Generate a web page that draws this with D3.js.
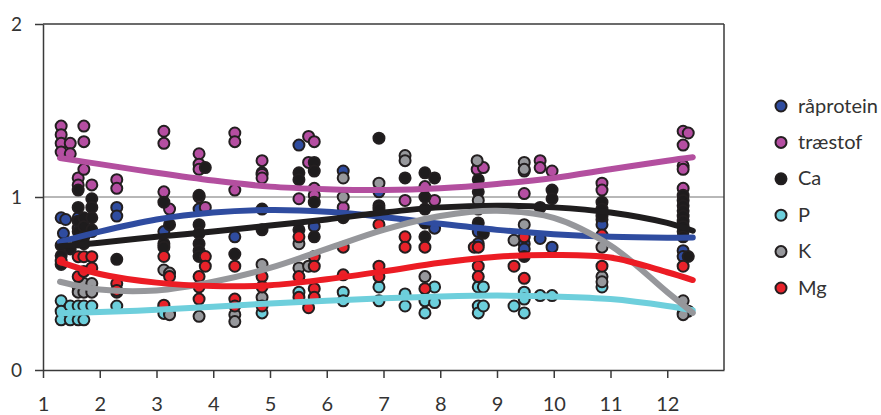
<!DOCTYPE html>
<html><head><meta charset="utf-8">
<script src="https://cdn.jsdelivr.net/npm/d3@7"></script>
<style>body{margin:0;background:#fff;} svg{display:block;}</style>
</head><body>
<svg id="c" width="881" height="415"></svg>
<script>
// ---- data ----
const seriesNames = ["råprotein", "træstof", "Ca", "P", "K", "Mg"];
const xTicks = [1,2,3,4,5,6,7,8,9,10,11,12];
const yTicks = [0,1,2];

const raprotein = [[1.32,0.88],[1.40,0.87],[1.36,0.79],[1.62,0.88],[1.62,0.82],[1.86,0.80],[2.30,0.94],[2.30,0.89],
 [3.13,0.80],[3.75,0.93],[4.38,0.77],[4.86,1.14],[5.51,1.30],[5.78,0.83],[6.29,1.15],[6.92,1.03],[7.90,0.82],
 [8.67,0.80],[8.67,0.73],[9.48,0.73],[9.48,0.70],[9.76,0.76],[9.97,0.71],[10.85,0.87],[10.85,0.84],[12.28,0.69],[12.28,0.656]];
const traestof = [[1.32,1.41],[1.32,1.36],[1.32,1.31],[1.32,1.26],[1.48,1.31],[1.48,1.25],[1.62,1.11],[1.62,1.07],
 [1.72,1.41],[1.72,1.32],[1.72,1.16],[1.86,1.07],[2.30,1.10],[2.30,1.05],[3.13,1.38],[3.13,1.31],[3.13,1.03],[3.23,0.93],
 [3.75,1.25],[3.75,1.19],[3.75,1.16],[3.75,1.00],[3.86,0.94],[4.38,1.37],[4.38,1.32],[4.38,1.04],[4.86,1.21],[4.86,1.13],
 [4.86,1.11],[5.51,0.99],[5.68,1.35],[5.68,1.20],[5.78,1.32],[5.78,1.05],[5.78,1.01],[6.29,0.94],[7.38,0.98],[7.73,1.06],
 [7.90,0.98],[8.65,1.16],[8.76,1.17],[9.48,1.15],[9.48,1.02],[9.76,1.21],[9.76,1.17],[9.97,1.15],[10.85,1.08],[10.85,1.04],
 [12.28,1.38],[12.37,1.37],[12.28,1.30],[12.28,1.18],[12.28,1.16],[12.28,1.05]];
const ca = [[1.32,0.72],[1.32,0.66],[1.32,0.61],[1.48,0.70],[1.62,1.04],[1.62,0.94],[1.62,0.86],[1.62,0.80],[1.62,0.74],
 [1.72,0.88],[1.72,0.83],[1.72,0.77],[1.72,0.73],[1.86,0.99],[1.86,0.94],[1.86,0.88],[1.86,0.81],[2.30,0.64],
 [3.13,0.97],[3.13,0.73],[3.13,0.71],[3.23,0.84],[3.75,1.01],[3.75,0.84],[3.75,0.79],[3.75,0.73],[3.75,0.69],[3.75,0.656],
 [3.86,1.17],[4.38,0.67],[4.86,0.93],[4.86,0.81],[5.51,1.14],[5.51,1.10],[5.51,0.81],[5.78,1.20],[5.78,1.15],[5.78,0.97],
 [5.78,0.77],[6.29,0.88],[6.92,1.34],[6.92,0.95],[6.92,0.93],[7.38,1.11],[7.73,1.14],[7.73,1.00],[7.73,0.93],[7.73,0.85],
 [7.73,0.77],[7.90,1.11],[8.67,1.10],[8.67,1.03],[8.67,0.93],[8.67,0.85],[8.76,0.79],[9.48,0.656],[9.76,0.94],[9.97,1.04],
 [9.97,0.99],[10.85,0.97],[10.85,0.93],[10.85,0.89],[12.28,1.01],[12.28,0.98],[12.28,0.95],[12.28,0.92],[12.28,0.89],
 [12.28,0.86],[12.28,0.83],[12.28,0.80],[12.28,0.77],[12.37,0.656]];
const p = [[1.32,0.40],[1.32,0.34],[1.32,0.29],[1.48,0.37],[1.48,0.29],[1.62,0.37],[1.62,0.29],[1.72,0.37],[1.72,0.29],
 [1.86,0.37],[2.30,0.37],[3.13,0.366],[3.13,0.327],[3.23,0.33],[4.86,0.33],[5.51,0.45],[6.29,0.45],[6.29,0.40],[6.92,0.48],
 [6.92,0.40],[7.38,0.44],[7.38,0.37],[7.73,0.40],[7.73,0.33],[7.90,0.48],[7.90,0.39],[8.67,0.48],[8.76,0.48],[8.67,0.37],
 [8.67,0.33],[8.76,0.37],[9.30,0.37],[9.48,0.45],[9.48,0.41],[9.48,0.33],[9.76,0.43],[9.97,0.43],[10.85,0.48],[12.28,0.33],[12.37,0.34]];
const k = [[1.62,0.48],[1.62,0.45],[1.72,0.50],[1.72,0.45],[1.86,0.50],[1.86,0.45],[2.30,0.45],[3.13,0.578],[3.23,0.56],
 [3.23,0.32],[3.75,0.31],[4.38,0.32],[4.38,0.28],[4.86,0.61],[4.86,0.42],[5.51,0.73],[5.51,0.59],[5.68,0.60],[6.29,1.11],
 [6.29,1.00],[6.92,1.08],[7.38,1.24],[7.38,1.21],[7.73,0.54],[8.65,1.21],[8.67,0.98],[9.30,0.75],[9.48,1.20],[9.48,1.16],
 [9.48,0.84],[10.85,0.71],[10.85,0.54],[10.85,0.51],[12.28,0.40],[12.28,0.32]];
const mg = [[1.32,0.63],[1.62,0.655],[1.62,0.54],[1.72,0.655],[1.72,0.57],[1.86,0.655],[1.86,0.59],[2.30,0.50],[2.30,0.46],
 [3.13,0.656],[3.13,0.375],[3.23,0.54],[3.75,0.54],[3.75,0.48],[3.75,0.41],[3.86,0.656],[3.86,0.60],[4.38,0.60],[4.38,0.41],
 [4.38,0.37],[4.86,0.54],[4.86,0.48],[4.86,0.37],[5.51,0.77],[5.51,0.54],[5.51,0.42],[5.68,0.36],[5.78,0.656],[5.78,0.60],
 [5.78,0.47],[5.78,0.42],[6.29,0.71],[6.29,0.55],[6.92,0.84],[6.92,0.60],[6.92,0.54],[7.38,0.77],[7.38,0.71],[7.73,0.71],
 [7.73,0.47],[8.60,0.71],[8.67,0.71],[8.67,0.60],[8.67,0.54],[9.30,0.60],[9.48,0.77],[9.48,0.53],[10.85,0.78],[10.85,0.60],[12.28,0.60]];

// trend lines
const trendX = [1.3, 2, 3, 4, 5, 6, 7, 8, 9, 10, 11, 12, 12.45];
const trendRaprotein = [0.74, 0.80, 0.87, 0.91, 0.925, 0.915, 0.885, 0.845, 0.81, 0.785, 0.77, 0.765, 0.766];
const trendTraestof = [1.225, 1.19, 1.14, 1.095, 1.06, 1.045, 1.04, 1.05, 1.075, 1.11, 1.16, 1.21, 1.23];
const trendCa = [0.715, 0.735, 0.77, 0.80, 0.835, 0.87, 0.91, 0.94, 0.95, 0.94, 0.91, 0.85, 0.805];
const trendP = [0.328, 0.335, 0.348, 0.365, 0.385, 0.40, 0.415, 0.425, 0.43, 0.425, 0.41, 0.37, 0.345];
const trendK = [0.51, 0.465, 0.46, 0.51, 0.59, 0.70, 0.81, 0.89, 0.92, 0.88, 0.72, 0.45, 0.33];
const trendMg = [0.625, 0.555, 0.505, 0.485, 0.49, 0.525, 0.57, 0.62, 0.655, 0.665, 0.65, 0.565, 0.52];

const markerColors = ["#2f4c9f", "#b54ea2", "#1e1c1d", "#6ccfdc", "#97989c", "#e8222a"];
const lineColors   = ["#2f4ca0", "#b34f9f", "#1f1d1e", "#6ecfdc", "#96979b", "#ec1c24"];

const points = [raprotein, traestof, ca, p, k, mg];
const trends = [trendRaprotein, trendTraestof, trendCa, trendP, trendK, trendMg];

// ---- chart ----
const svg = d3.select("#c");
const x = d3.scaleLinear().domain([1, 13]).range([43, 724]);
const y = d3.scaleLinear().domain([0, 2]).range([370, 24]);
const axisColor = "#3a3a3a";
const font = "Lato, 'Open Sans', sans-serif";

// gridline at 1
svg.append("line").attr("x1", x(1)).attr("x2", x(13)).attr("y1", y(1)).attr("y2", y(1))
  .attr("stroke", "#707070").attr("stroke-width", 1);
// frame top & right
svg.append("line").attr("x1", x(1)).attr("x2", x(13)).attr("y1", y(2)).attr("y2", y(2))
  .attr("stroke", axisColor).attr("stroke-width", 1.5);
svg.append("line").attr("x1", x(13)).attr("x2", x(13)).attr("y1", y(2)).attr("y2", y(0))
  .attr("stroke", axisColor).attr("stroke-width", 1.5);

const gx = svg.append("g").attr("transform", `translate(0,${y(0)})`)
  .call(d3.axisBottom(x).tickValues(xTicks).tickSize(8).tickSizeOuter(0).tickPadding(19).tickFormat(d3.format("d")));
const gy = svg.append("g").attr("transform", `translate(${x(1)},0)`)
  .call(d3.axisLeft(y).tickValues(yTicks).tickSize(8).tickSizeOuter(0).tickPadding(13).tickFormat(d3.format("d")));
[gx, gy].forEach(g => {
  g.select(".domain").attr("stroke", axisColor).attr("stroke-width", 1.5);
  g.selectAll(".tick line").attr("stroke", axisColor).attr("stroke-width", 1.5);
  g.selectAll(".tick text").attr("fill", "#333").style("font-family", font);
});
gx.selectAll(".tick text").style("font-size", "20px");
gy.selectAll(".tick text").style("font-size", "19px").attr("dy", "0.36em");

// points
points.forEach((arr, i) => {
  svg.append("g").selectAll("circle").data(arr).join("circle")
    .attr("cx", d => x(d[0])).attr("cy", d => y(d[1])).attr("r", 5.5)
    .attr("fill", markerColors[i]).attr("stroke", "#231f20").attr("stroke-width", 2);
});

// trend lines
const line = d3.line().x(d => x(d[0])).y(d => y(d[1])).curve(d3.curveCatmullRom);
trends.forEach((vals, i) => {
  svg.append("path").datum(trendX.map((t, j) => [t, vals[j]]))
    .attr("d", line).attr("fill", "none").attr("stroke", lineColors[i])
    .attr("stroke-width", 6).attr("stroke-linecap", "round");
});

// legend
const lg = svg.append("g");
seriesNames.forEach((name, i) => {
  const cy = 106 + i * 36.4;
  lg.append("circle").attr("cx", 781).attr("cy", cy).attr("r", 5.5)
    .attr("fill", markerColors[i]).attr("stroke", "#231f20").attr("stroke-width", 2);
  lg.append("text").attr("x", 798).attr("y", cy + 6.5).text(name)
    .attr("fill", "#333").style("font-family", font).style("font-size", "20px");
});
</script>
</body></html>
